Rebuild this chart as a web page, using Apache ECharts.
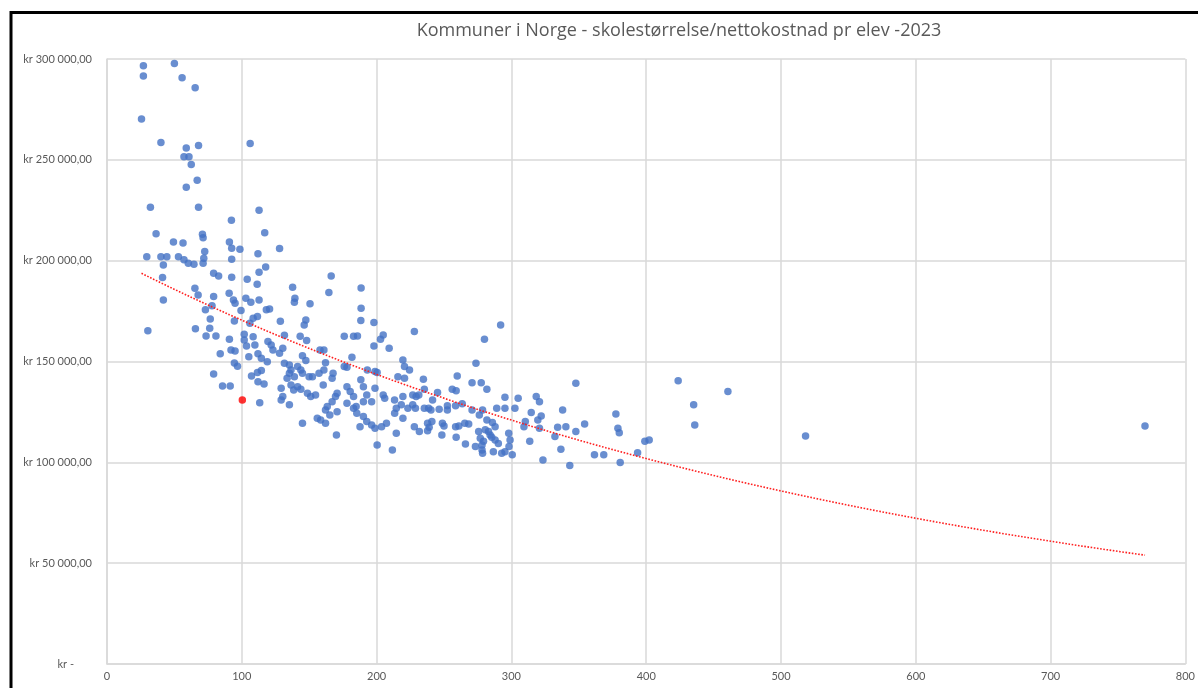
<!DOCTYPE html>
<html>
<head>
<meta charset="utf-8">
<script src="https://cdn.jsdelivr.net/npm/echarts@6/dist/echarts.min.js"></script>
<style>
html,body{margin:0;padding:0;background:#fff;}
#chart{width:1198px;height:688px;}
</style>
</head>
<body>
<div id="chart"></div>
<script>
// Elevtall pr skole (x) og nettokostnad pr elev i kr (y), lest av bildet
const elever = [
27,27,50,55.7,65.4,25.6,40,58.8,67.9,106.2,57.1,60.8,62.5,66.9,58.8,32.2,67.9,112.8,92.3,36.4,70.8,71.3,117,49.3,56.4,90.8,
92.5,98.6,29.5,40,44.4,41.8,53,57.1,60.3,64.5,72.5,71.8,71.3,92.5,112,117.7,41.2,79.1,82.8,92.5,104,111.4,112.8,65.2,67.6,79.1,90.6,93.8,95,41.8,103,106.7,112.8,77.9,73,99.4,
76.6,108.4,111.6,94.5,106,30.3,65.6,76.2,73.5,80.8,90.8,101.8,101.8,103.5,108.4,109.7,92,95,84,105.2,112,114.5,94.5,96.8,79.1,107.2,111.6,114.5,85.7,91.4,112,116.5,113.3,
128,
166.3,164.6,188.5,137.7,139.4,139,150.6,188.5,188.3,198,118.2,120.6,128.6,147.5,146.3,143.3,131.6,176,182.9,185.8,204.9,202.9,198,209.3,228,119.4,121.8,123.1,130.4,128,118.9,
131.6,135.3,136.5,135.3,141.4,143.8,145,147.5,133.6,139,149.9,152.4,157.3,160.9,158,160.9,162.1,167.7,167,148.1,145,178,176,181.7,188.3,190.2,193.1,198.8,200.4,198.8,
178,180.4,182.9,184.8,190.2,192.7,196.3,204.9,206,213.3,219.5,220.7,224.4,215.8,219.5,226.8,129.2,130.4,129.2,135.3,136.5,138.5,141.4,143.8,148.7,151.1,154.7,160.4,
163.4,167,169.5,170.7,162.1,165.3,170.7,156,158.5,162.1,145,170.2,178,182.9,185.3,190.2,192.7,196.3,198.8,203.7,207.3,187.7,200.4,211.7,214.6,213.4,214.6,219.5,218.3,
223.2,226.8,228,220.7,
292,280,273.7,234.7,259.8,270.8,277.6,281.8,256.1,259,245.2,235.4,231.3,229.3,241.5,228.8,235.4,238.6,240.3,246.4,252.5,252.5,258.6,263.5,270.8,276.2,289.1,295.2,
295.2,305,302.6,318.4,320.8,314.7,322.1,319.6,320.8,310.3,309.3,338,334.3,332.3,336.7,313.6,323.4,237.8,239,237.8,241,248.8,250,248.4,258.6,261,265.4,268.3,259,
265.9,273.3,278.2,278.6,275.7,280.6,283,284.2,285.4,287.9,276.9,279.3,278.2,286.6,290.3,298,299,298.2,295.2,300.6,292.8,278.6,281.8,285.9,287.9,231.7,
347.8,340.4,354.3,347.8,343.3,361.6,368.5,377.5,379,380,380.7,393.6,399,402.2,423.7,435.2,436,460.6,518.2,770
];
const kostnad = [
296600,291600,297800,290700,285700,270200,258600,255900,257100,258100,251500,251500,247700,239900,236400,226500,226500,225000,220000,213400,213100,211400,213900,209200,208700,209200,
206200,205700,202000,202000,202000,197900,202000,200400,198700,198200,204500,201200,198700,200700,203400,196800,191600,193800,192400,191800,190800,188300,194300,186300,183000,182200,183900,180500,178900,180500,181400,179400,180500,177600,175600,175300,
171100,171500,172300,170100,169000,165200,166200,166500,162700,162700,161000,163500,160700,157700,162300,158200,155700,155200,153800,152400,153800,151600,149300,147700,143800,142800,144500,145500,137900,137900,140000,138900,129600,
206000,
192400,184200,186500,186800,181400,179400,178600,176400,170300,169300,175600,176000,169900,170600,168100,162500,163000,162500,162500,162700,163200,161000,157700,156600,164900,159900,158200,155700,156600,154100,149900,
149100,148300,145800,144200,147500,145800,144200,150500,141700,142500,142500,142500,144200,145800,155700,155700,149400,144200,141700,160400,152800,147200,147500,152100,140900,137500,145800,145000,144500,136700,
137500,135100,132600,127700,130100,133400,130100,133400,131800,130900,150800,147500,145800,142500,132600,133400,136700,132600,130900,128500,138400,135900,137500,136200,134300,132600,133400,138400,
127700,130100,132600,134300,126000,123500,125100,121900,121000,119400,119400,113600,129300,126800,124300,122700,120200,118500,116900,117700,119400,117700,108600,106100,114400,124300,126800,121900,128500,
126800,128500,117700,141700,
168100,161000,149100,141200,142800,139500,139500,136200,136200,135500,134600,136200,133400,132600,130900,126800,126800,126800,126000,126300,128000,126000,128000,129000,126000,123500,126800,126800,
132300,131800,126800,132600,130100,124700,123000,121000,116900,120200,117700,126000,117400,112800,106500,110400,101200,119400,117400,115700,120200,119400,118000,113600,117700,118000,119400,119000,112400,
109100,107800,106100,104500,115300,116100,115300,113600,112400,111100,112000,110400,108600,105300,109400,114400,111100,107800,105300,103700,104500,126000,121000,119700,117700,115300,
139200,117700,119000,115300,98400,103700,103700,124000,116900,114700,99900,104800,110400,111100,140500,128500,118500,135100,113100,118000
];
// Uthevet kommune (rød prikk)
const uthevetElever = [100.4];
const uthevetKostnad = [130900];

const tittel = 'Kommuner i Norge - skolestørrelse/nettokostnad pr elev -2023';
const xTicks = [0, 100, 200, 300, 400, 500, 600, 700, 800];
const yTicks = [0, 50000, 100000, 150000, 200000, 250000, 300000];

// Eksponentiell trendlinje (minste kvadraters metode på ln(y)), som i Excel
function expFit(xs, ys) {
  const n = xs.length;
  let sx = 0, sy = 0, sxx = 0, sxy = 0;
  for (let i = 0; i < n; i++) {
    const lx = xs[i], ly = Math.log(ys[i]);
    sx += lx; sy += ly; sxx += lx * lx; sxy += lx * ly;
  }
  const b = (n * sxy - sx * sy) / (n * sxx - sx * sx);
  const a = (sy - b * sx) / n;
  return { A: Math.exp(a), b: b };
}
const fit = expFit(elever, kostnad);
const xmin = Math.min.apply(null, elever), xmax = Math.max.apply(null, elever);
const trend = [];
for (let i = 0; i <= 80; i++) {
  const x = xmin + (xmax - xmin) * i / 80;
  trend.push([x, fit.A * Math.exp(fit.b * x)]);
}

const punkter = elever.map((x, i) => [x, kostnad[i]]);
const uthevet = uthevetElever.map((x, i) => [x, uthevetKostnad[i]]);

function kr(v) {
  if (v === 0) return '{d|kr -}';
  const s = String(Math.round(v)).replace(/\B(?=(\d{3})+(?!\d))/g, ' ');
  return 'kr ' + s + ',00';
}

const chart = echarts.init(document.getElementById('chart'), null, { renderer: 'canvas' });
const FONT = 'Lato, "Open Sans", sans-serif';
chart.setOption({
  animation: false,
  backgroundColor: '#ffffff',
  title: {
    text: tittel,
    left: 674, top: 17,
    textAlign: 'center',
    textStyle: { fontFamily: '"Open Sans", Lato, sans-serif', fontSize: 18, fontWeight: 'normal', color: '#595959' }
  },
  graphic: [{
    type: 'rect',
    shape: { x: 11, y: 12.5, width: 1400, height: 900 },
    style: { fill: null, stroke: '#000000', lineWidth: 3 },
    z: 100
  }],
  grid: { left: 107, top: 59, width: 1092, height: 605, containLabel: false },
  xAxis: {
    type: 'value', min: xTicks[0], max: xTicks[xTicks.length - 1], interval: 100,
    axisLine: { show: true, lineStyle: { color: '#d9d9d9', width: 1.5 } },
    axisTick: { show: false },
    splitLine: { show: true, lineStyle: { color: '#d9d9d9', width: 1.5 } },
    axisLabel: { margin: 7, fontFamily: FONT, fontSize: 11, color: '#595959' }
  },
  yAxis: {
    type: 'value', min: yTicks[0], max: yTicks[yTicks.length - 1], interval: 50000,
    axisLine: { show: true, lineStyle: { color: '#d9d9d9', width: 1.5 } },
    axisTick: { show: false },
    splitLine: { show: true, lineStyle: { color: '#d9d9d9', width: 1.5 } },
    axisLabel: {
      margin: 15, fontFamily: FONT, fontSize: 11, color: '#595959',
      formatter: kr,
      rich: { d: { fontFamily: FONT, fontSize: 11, color: '#595959', padding: [0, 18, 0, 0] } }
    }
  },
  series: [
    {
      type: 'scatter', data: punkter, symbol: 'circle', symbolSize: 7.5,
      itemStyle: { color: '#4472C4' }, z: 2
    },
    {
      type: 'scatter', data: uthevet, symbol: 'circle', symbolSize: 7.5,
      itemStyle: { color: '#FF0000' }, z: 3
    },
    {
      type: 'line', data: trend, showSymbol: false, smooth: false,
      lineStyle: { color: '#FF2020', width: 1.6, type: [1.6, 1.6] }, z: 4
    }
  ]
});
</script>
</body>
</html>
